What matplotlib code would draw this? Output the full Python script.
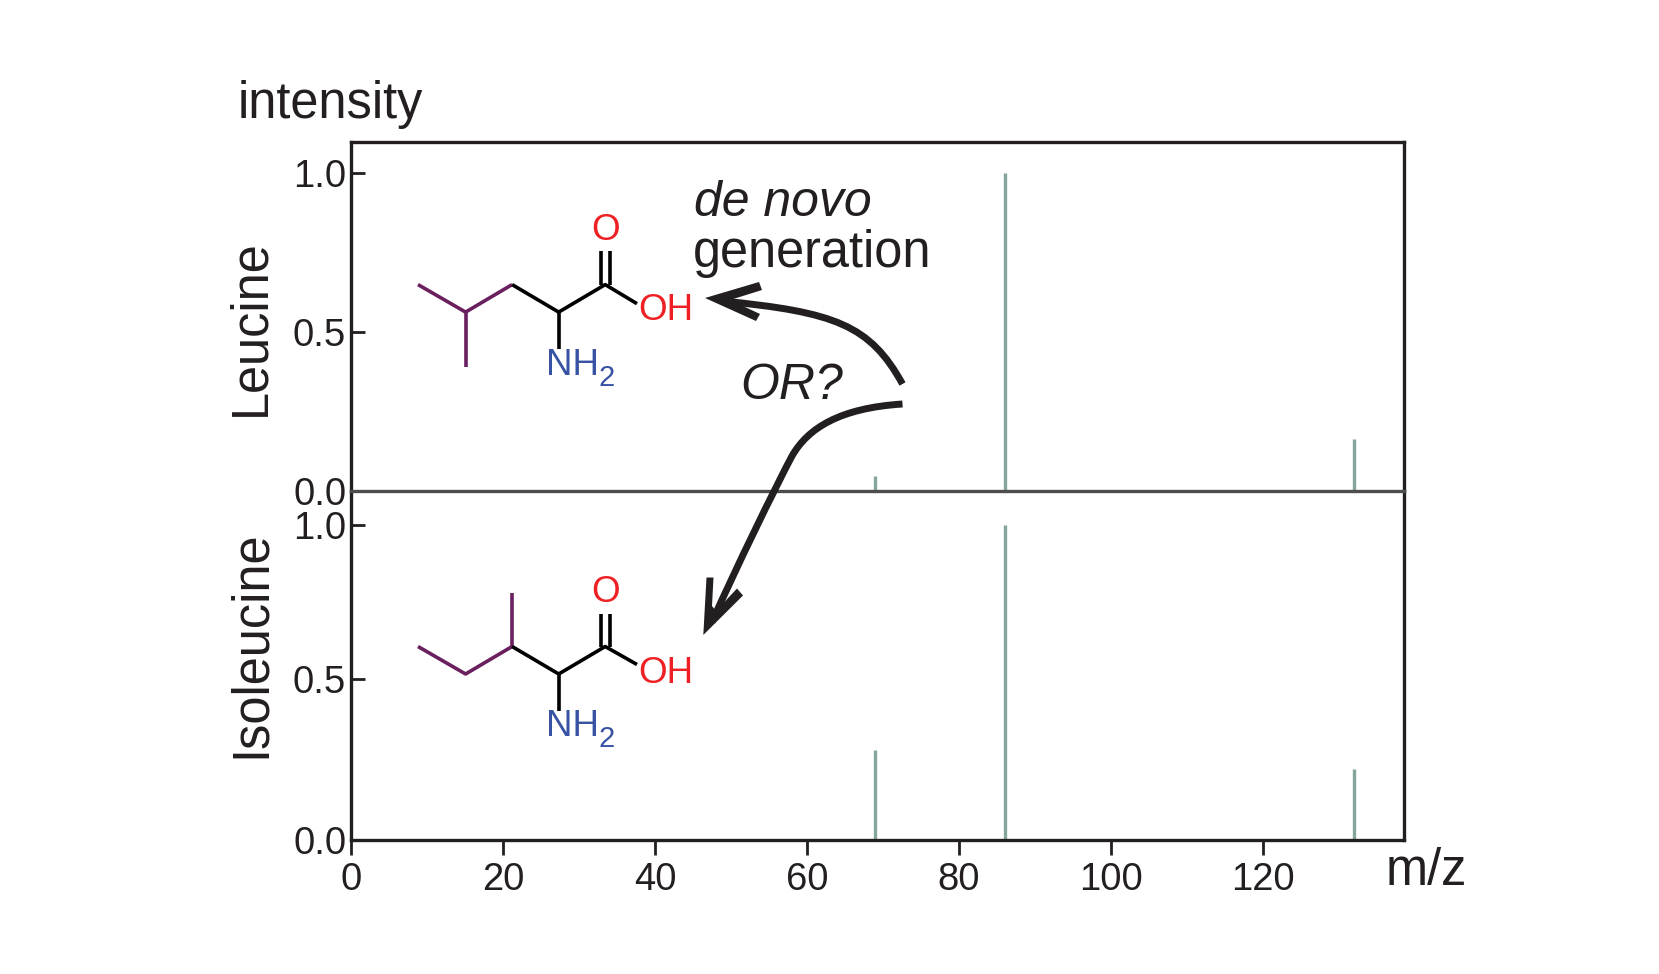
import matplotlib
matplotlib.use('Agg')
import matplotlib.pyplot as plt
from matplotlib.path import Path
from matplotlib.patches import PathPatch

plt.rcParams['font.family'] = ['Liberation Sans', 'DejaVu Sans']

# peak data
mz = [69, 86, 132]
leucine = [0.047, 1.0, 0.165]
isoleucine = [0.285, 1.0, 0.225]

x_ticks = [0, 20, 40, 60, 80, 100, 120]
y_ticks_top = [0.0, 0.5, 1.0]
y_ticks_bottom = [0.0, 0.511, 1.0]  # the 0.5 tick sits a bit high in the original
y_labels = ['0.0', '0.5', '1.0']

dark = '#231f20'
teal = '#84a59d'
purple = '#6a1f5f'
red = '#ee2024'
blue = '#3853a4'

W, H = 1659, 974
fig = plt.figure(figsize=(W / 100, H / 100), dpi=100)


def axes_px(left, top, right, bottom):
    return fig.add_axes([left / W, 1 - bottom / H, (right - left) / W, (bottom - top) / H])


ax1 = axes_px(351, 142, 1404, 491)
ax2 = axes_px(351, 491, 1404, 840)

ax1.vlines(mz, 0, leucine, color=teal, lw=2.4)
ax2.vlines(mz, 0, isoleucine, color=teal, lw=2.4)

ax1.set_ylim(0, 349 / 318)
ax2.set_ylim(0, 349 / 315)
ax1.set_yticks(y_ticks_top)
ax2.set_yticks(y_ticks_bottom)

for ax in (ax1, ax2):
    ax.set_xlim(0, 1053 / 7.6)
    ax.set_yticklabels(y_labels)
    ax.tick_params(axis='y', direction='in', length=10, width=2, color=dark,
                   labelsize=27.5, labelcolor=dark, pad=3.5)
    for s in ax.spines.values():
        s.set_linewidth(2.4)
        s.set_color(dark)

ax1.set_xticks([])
ax1.spines['bottom'].set_visible(False)
ax2.spines['top'].set_color('#4d4d4d')
ax2.set_xticks(x_ticks)
ax2.tick_params(axis='x', direction='out', length=11, width=2, color=dark,
                labelsize=27.5, labelcolor=dark, pad=5)

# overlay in pixel coordinates for the drawn annotations
ov = fig.add_axes([0, 0, 1, 1], facecolor='none')
ov.set_xlim(0, W)
ov.set_ylim(H, 0)
ov.axis('off')

ov.text(238, 118, 'intensity', fontsize=36.4, color=dark, va='baseline')
ov.text(251, 328, 'Leucine', fontsize=36.4, color=dark, rotation=90, ha='center', va='center')
ov.text(251, 644, 'Isoleucine', fontsize=36.4, color=dark, rotation=90, ha='center', va='center')
ov.text(1386, 885, 'm/z', fontsize=36.4, color=dark, va='baseline')
ov.text(694, 216, 'de novo', fontsize=36, color=dark, style='italic', va='baseline')
ov.text(693, 267, 'generation', fontsize=36.4, color=dark, va='baseline')
ov.text(740, 399, 'OR?', fontsize=36, color=dark, style='italic', va='baseline')


def molecule(purple_x, purple_y, y_ring, o_y, oh_y, nh2_y, n_bond_end, dbl_top):
    ov.plot(purple_x, purple_y[0], color=purple, lw=2.6, solid_capstyle='butt')
    ov.plot(purple_y[1], purple_y[2], color=purple, lw=2.6, solid_capstyle='butt')
    ov.plot([512.1, 558.7, 605.2, 637], y_ring, color='black', lw=2.6, solid_capstyle='butt')
    ov.plot([558.7, 558.7], [y_ring[1], n_bond_end], color='black', lw=2.6, solid_capstyle='butt')
    for dx in (600.5, 610):
        ov.plot([dx, dx], [dbl_top, y_ring[2]], color='black', lw=2.6, solid_capstyle='butt')
    ov.text(605.5, o_y, 'O', fontsize=26.5, color=red, ha='center', va='center_baseline')
    ov.text(638, oh_y, 'OH', fontsize=26.5, color=red, va='center_baseline')
    ov.text(546, nh2_y, 'NH', fontsize=26.5, color=blue, va='baseline')
    ov.text(599, nh2_y + 11, '2', fontsize=21, color=blue, va='baseline')


molecule([418, 465.6, 512.1], ([284.6, 312.1, 284.6], [465.6, 465.6], [312.1, 367.2]),
         [284.6, 312.1, 284.6, 303.7], 226.5, 307, 374.6, 349.2, 250.8)
molecule([418, 465.6, 512.1], ([646.5, 674, 646.5], [512.1, 512.1], [646.5, 592.5]),
         [646.5, 674, 646.5, 664.5], 588.3, 669.3, 736.4, 711, 613.7)


def curve(points, **kw):
    codes = [Path.MOVETO] + [Path.CURVE4] * (len(points) - 1)
    ov.add_patch(PathPatch(Path(points, codes), fill=False, capstyle='butt', **kw))


# curved arrows
curve([(902.5, 384), (870, 325), (835, 312), (722, 301)], lw=5, edgecolor=dark)
curve([(902.5, 404), (840, 408), (808, 428), (792, 456),
       (775, 488), (735, 570), (712, 622)], lw=5, edgecolor=dark)

# arrow heads
ov.fill([705, 759, 762, 730, 760, 756], [298, 282, 290, 300, 314, 321], color=dark, lw=0)
ov.fill([703.3, 706.5, 713.5, 712, 716, 737, 743], [635, 577.5, 577.5, 606, 611, 588.5, 595.5],
        color=dark, lw=0)

fig.savefig('out.png', dpi=100, facecolor='white')
